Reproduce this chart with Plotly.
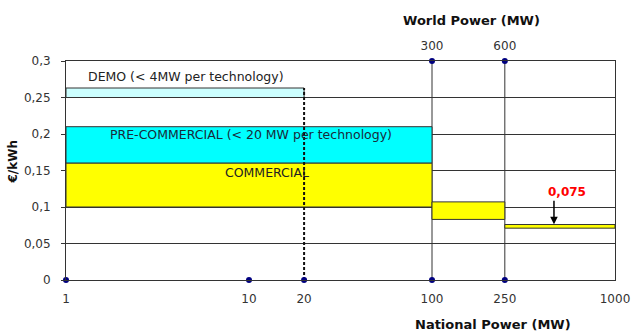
import plotly.graph_objects as go
import math

# ---- data ----
x_ticks = [1, 10, 20, 100, 250, 1000]
x_tick_labels = ["1", "10", "20", "100", "250", "1000"]
world_ticks = [100, 250]
world_labels = ["300", "600"]
y_ticks = [0, 0.05, 0.1, 0.15, 0.2, 0.25, 0.3]
y_tick_labels = ["0", "0,05", "0,1", "0,15", "0,2", "0,25", "0,3"]

demo_x = [1, 20]
demo_y = [0.25, 0.263]
precom_x = [1, 100]
precom_y = [0.16, 0.21]
com_x = [1, 100]
com_y = [0.10, 0.16]
step2_x = [100, 250]
step2_y = [0.083, 0.107]
step3_x = [250, 1000]
step3_y = [0.071, 0.076]

bottom_marker_x = [1, 10, 20, 100, 250]
top_marker_x = [100, 250]
vgrid_x = [100, 250]
dash_x = 20
target_value = "0,075"
arrow_x = 464

FONT = "DejaVu Sans"
EDGE = "#333333"


def rect(xs, ys, color):
    return go.Scatter(
        x=[xs[0], xs[1], xs[1], xs[0], xs[0]],
        y=[ys[0], ys[0], ys[1], ys[1], ys[0]],
        mode="lines", fill="toself", fillcolor=color,
        line=dict(color=EDGE, width=1), hoverinfo="skip", showlegend=False,
    )


fig = go.Figure()

# vertical gridlines
for vx in vgrid_x:
    fig.add_trace(go.Scatter(x=[vx, vx], y=[0, 0.3], mode="lines",
                             line=dict(color=EDGE, width=1), showlegend=False,
                             hoverinfo="skip"))

fig.add_trace(rect(demo_x, demo_y, "#CCFFFF"))
fig.add_trace(rect(precom_x, precom_y, "#00FFFF"))
fig.add_trace(rect(com_x, com_y, "#FFFF00"))
fig.add_trace(rect(step2_x, step2_y, "#FFFF00"))
fig.add_trace(rect(step3_x, step3_y, "#FFFF00"))

# dashed line at 20
fig.add_trace(go.Scatter(x=[dash_x, dash_x], y=[0, demo_y[1]], mode="lines",
                         line=dict(color="#111111", width=2, dash="3px,2px"),
                         showlegend=False, hoverinfo="skip"))

# markers
fig.add_trace(go.Scatter(x=bottom_marker_x, y=[0] * len(bottom_marker_x),
                         mode="markers", marker=dict(color="#000080", size=6),
                         cliponaxis=False, showlegend=False))
fig.add_trace(go.Scatter(x=top_marker_x, y=[0.3] * len(top_marker_x),
                         mode="markers", marker=dict(color="#000080", size=6),
                         cliponaxis=False, showlegend=False, xaxis="x2"))

annotations = [
    dict(x=math.log10(4.5), y=0.2785, text="DEMO (< 4MW per technology)",
         showarrow=False, font=dict(family=FONT, size=12.5, color="#222222")),
    dict(x=math.log10(10.2), y=0.2, text="PRE-COMMERCIAL (< 20 MW per technology)",
         showarrow=False, font=dict(family=FONT, size=12.5, color="#1a2a3a")),
    dict(x=math.log10(12.5), y=0.1475, text="COMMERCIAL",
         showarrow=False, font=dict(family=FONT, size=12.5, color="#222222")),
    dict(x=math.log10(545), y=0.121, text="<b>" + target_value + "</b>",
         showarrow=False, font=dict(family=FONT, size=12, color="#FF0000")),
    dict(x=math.log10(arrow_x), y=0.0765, text="", showarrow=True,
         ax=0, ay=-25, arrowhead=2, arrowsize=1, arrowwidth=1.5,
         arrowcolor="#000000"),
    dict(xref="paper", yref="paper", x=-0.097, y=0.54, xanchor="center",
         yanchor="middle", text="<b>€/kWh</b>", textangle=-90, showarrow=False,
         font=dict(family=FONT, size=12, color="#111111")),
    dict(xref="paper", yref="paper", x=0.778, y=-0.205, xanchor="center",
         yanchor="middle", text="<b>National Power (MW)</b>", showarrow=False,
         font=dict(family=FONT, size=13, color="#111111")),
    dict(xref="paper", yref="paper", x=0.738, y=1.187, xanchor="center",
         yanchor="middle", text="<b>World Power (MW)</b>", showarrow=False,
         font=dict(family=FONT, size=13, color="#111111")),
]

fig.update_layout(
    width=631, height=336,
    margin=dict(l=66, r=16, t=61, b=56, autoexpand=False),
    paper_bgcolor="white", plot_bgcolor="white",
    font=dict(family=FONT, size=12, color="#333333"),
    xaxis=dict(type="log", range=[0, 3], tickvals=x_ticks, ticktext=x_tick_labels,
               showgrid=False, zeroline=False, showline=True, linecolor=EDGE,
               linewidth=1, mirror=True, ticks="", automargin=False,
               ticklabelstandoff=8,
               tickfont=dict(family=FONT, size=12, color="#333333")),
    xaxis2=dict(type="log", range=[0, 3], overlaying="x", side="top",
                tickvals=world_ticks, ticktext=world_labels, showgrid=False,
                zeroline=False, showline=False, ticks="", automargin=False,
                ticklabelstandoff=8,
                tickfont=dict(family=FONT, size=12, color="#333333")),
    yaxis=dict(range=[0, 0.3], tickvals=y_ticks, ticktext=y_tick_labels,
               showgrid=True, gridcolor=EDGE, gridwidth=1, zeroline=False,
               showline=True, linecolor=EDGE, linewidth=1, mirror=True,
               ticks="outside", ticklen=4, tickcolor=EDGE, automargin=False,
               ticklabelstandoff=8,
               tickfont=dict(family=FONT, size=12, color="#333333")),
    annotations=annotations,
    showlegend=False,
)

fig.write_html("out.html")
